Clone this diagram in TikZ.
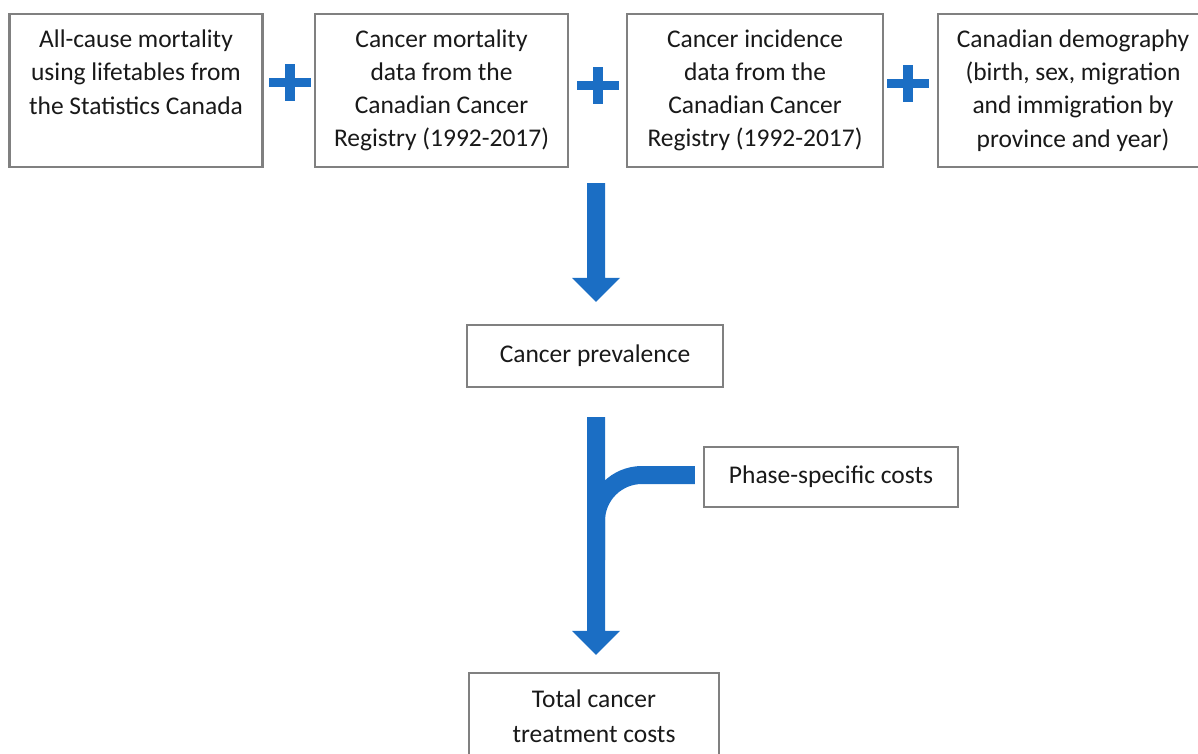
\documentclass[tikz,border=0pt]{standalone}
\usepackage{fontspec}
\setmainfont{Carlito}
\usepackage{tikz}
\usetikzlibrary{arrows,shapes,positioning,calc}
\usepackage{xcolor}
\definecolor{cpblue}{RGB}{27,110,196}
\definecolor{cpgray}{RGB}{128,128,128}
\definecolor{cptext}{RGB}{25,25,25}
\tikzstyle{cpbox} = [rectangle, draw=cpgray, line width=1.4pt, fill=white, inner sep=0pt, align=center, text=cptext, font=\fontsize{14.5}{18.9}\selectfont]
\tikzstyle{srcbox} = [cpbox, minimum width=5.06cm, minimum height=3.06cm]
\tikzstyle{blockarrow} = [fill=cpblue]
% block arrow pointing down: #1 top of shaft, #2 tip
\newcommand{\cpdownarrow}[2]{%
  \fill[blockarrow] ($(#1)+(-9,0)$) -- ($(#1)+(9,0)$) -- ($(#2)+(9,-24)$) -- ($(#2)+(24,-24)$)
    -- (#2) -- ($(#2)+(-24,-24)$) -- ($(#2)+(-9,-24)$) -- cycle;}

\begin{document}
\begin{tikzpicture}[x=0.02cm, y=-0.02cm]
\useasboundingbox (0,0) rectangle (1198,754);
\clip (0,0) rectangle (1198,754);

% Source boxes
\node[srcbox] at (136,90.5) (allcause) {All-cause mortality\\using lifetables from\\the Statistics Canada\\\vphantom{()}};
\node[srcbox] at (441.5,90.5) (mortality) {Cancer mortality\\data from the\\Canadian Cancer\\Registry (1992-2017)};
\node[srcbox, minimum width=5.12cm] at (755,90.5) (incidence) {Cancer incidence\\data from the\\Canadian Cancer\\Registry (1992-2017)};
\node[srcbox, minimum width=5.4cm] at (1073,90.5) (demography) {Canadian demography\\(birth, sex, migration\\and immigration by\\province and year)};

% Plus signs
\foreach \px/\py in {290/82, 597.5/85, 908/83} {
  \fill[cpblue] (\px-21,\py-4.5) rectangle (\px+21,\py+4.5);
  \fill[cpblue] (\px-5,\py-18.5) rectangle (\px+5,\py+18.5);
}

% Result boxes
\node[cpbox, minimum width=5.12cm, minimum height=1.24cm] at (595,356) (prevalence) {Cancer prevalence};
\node[cpbox, minimum width=5.08cm, minimum height=1.2cm] at (831,477) (phase) {Phase-specific costs};
\node[cpbox, minimum width=5cm, minimum height=1.74cm] at (594,716.5) (total) {Total cancer\\[1.2pt]treatment costs};

% Arrows
\coordinate (srcout) at (596,183);
\cpdownarrow{srcout}{$(prevalence.north)+(1,-22)$}
\coordinate (branch) at ($(phase.west)+(-8,-2)$);
\fill[blockarrow] ($(branch)+(0,-9)$) -- (642,466) arc (90:180:1.1cm) -- (587,560)
  -- (605,560) -- (605,521) arc (180:90:0.74cm) -- ($(branch)+(0,9)$) -- cycle;
\cpdownarrow{$(prevalence.south)+(1,29)$}{$(total.north)+(2,-17)$}
\end{tikzpicture}
\end{document}
